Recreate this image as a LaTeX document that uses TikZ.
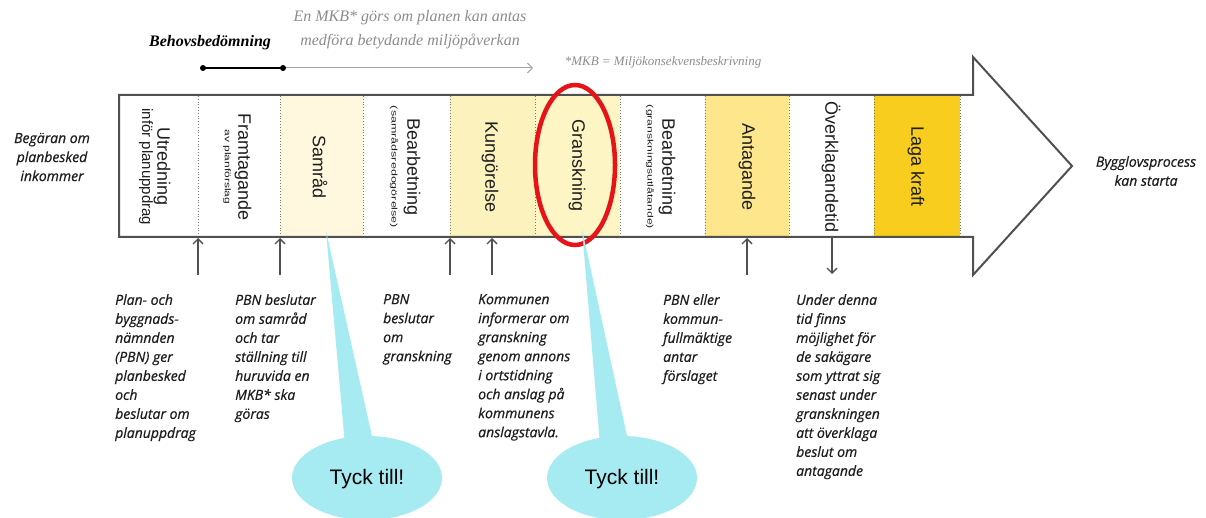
\documentclass[tikz,border=0pt]{standalone}
\usepackage{fontspec}
\setmainfont{Liberation Serif}
\setsansfont{Liberation Sans}
\newfontfamily\notef{Open Sans}[ItalicFeatures={FakeBold=0.7}]
\usetikzlibrary{arrows.meta}
\definecolor{bandline}{RGB}{80,80,80}
\definecolor{divline}{RGB}{120,120,120}
\definecolor{fillA}{RGB}{255,248,222}
\definecolor{fillB}{RGB}{252,242,190}
\definecolor{fillC}{RGB}{253,245,195}
\definecolor{fillD}{RGB}{253,230,140}
\definecolor{fillE}{RGB}{248,205,30}
\definecolor{calloutc}{RGB}{166,235,241}
\definecolor{ringred}{RGB}{230,20,25}
\definecolor{notegray}{RGB}{140,140,140}
\definecolor{txt}{RGB}{30,30,30}
\tikzset{
  collabel/.style={rotate=-90, inner sep=0pt, font=\sffamily\fontsize{18}{20}\selectfont, text=txt},
  colsmall/.style={rotate=-90, inner sep=0pt, font=\sffamily\fontsize{15}{16}\selectfont, text=txt},
  colsmaller/.style={rotate=-90, inner sep=0pt, text=txt},
  note/.style={anchor=north west, inner sep=0pt, align=left, text=txt, font=\notef\itshape\fontsize{14}{19}\selectfont},
  sidenote/.style={inner sep=0pt, align=center, text=txt, font=\notef\itshape\fontsize{14}{19}\selectfont},
  uparrow/.style={draw=bandline, line width=1.3pt, -{Straight Barb[length=5pt,width=10pt]}},
  divider/.style={draw=divline, line width=0.8pt, dotted},
  callout/.style={fill=calloutc, draw=none},
  tyck/.style={inner sep=0pt, font=\sffamily\fontsize{21}{24}\selectfont, text=black},
}
\begin{document}
\begin{tikzpicture}[x=1pt,y=-1pt]
\useasboundingbox (0,0) rectangle (1206,518);
% column fills
\fill[fillA] (280,95) rectangle (363,237);
\fill[fillB] (450,95) rectangle (535,237);
\fill[fillC] (535,95) rectangle (620,237);
\fill[fillD] (705,95) rectangle (789,237);
\fill[fillE] (874,95) rectangle (960,237);
% dividers
\foreach \xx in {198,280,363,450,535,620,705,789,874,960}{
  \draw[divider] (\xx,96) -- (\xx,236);
}
% band outline
\draw[bandline, line width=2pt, line join=miter] (119,95) -- (973,95) -- (973,57) -- (1072,166) -- (973,275) -- (973,237) -- (119,237) -- cycle;
% column labels
\node[collabel] (utr) at (162,167) {Utredning};
\node[colsmall] (utrs) at (146,167) {inför planuppdrag};
\node[collabel] (fram) at (243,167) {Framtagande};
\node[colsmaller] (frams) at (227,167) {\scalebox{1}[0.7]{\sffamily\fontsize{12}{12}\selectfont av planförslag}};
\node[collabel] (samr) at (320,167) {Samråd};
\node[collabel] (bear1) at (412,167) {Bearbetning};
\node[colsmaller] (bear1s) at (394,167) {\scalebox{1}[0.65]{\sffamily\fontsize{12.5}{12}\selectfont (samrådsredogörelse)}};
\node[collabel] (kung) at (490,167) {Kungörelse};
\node[collabel] (gran) at (577,166) {Granskning};
\node[collabel] (bear2) at (667,167) {Bearbetning};
\node[colsmaller] (bear2s) at (650,167) {\scalebox{1}[0.65]{\sffamily\fontsize{12.2}{12}\selectfont (granskningsutlåtande)}};
\node[collabel] (anta) at (747,167) {Antagande};
\node[collabel] (overk) at (831,167) {Överklagandetid};
\node[collabel] (laga) at (916,167) {Laga kraft};
% red ring
\draw[ringred, line width=4.5pt] (575,165) ellipse [x radius=40, y radius=80];
% top annotation
\node[inner sep=0pt, font=\rmfamily\itshape\fontsize{16}{24}\selectfont, text=notegray, align=center] (mkb) at (410,30) {En MKB* görs om planen kan antas\\medföra betydande miljöpåverkan};
\node[inner sep=0pt, font=\rmfamily\bfseries\itshape\fontsize{16}{18}\selectfont, text=black] (behov) at (210,43) {Behovsbedömning};
\node[inner sep=0pt, font=\rmfamily\itshape\fontsize{13}{15}\selectfont, text=notegray] (mkbdef) at (663,62) {*MKB = Miljökonsekvensbeskrivning};
\coordinate (d1) at (203,68);
\coordinate (d2) at (283,68);
\coordinate (d3) at (533,68);
\draw[black, line width=1.8pt] (d1) -- (d2);
\draw[notegray!80, line width=1pt, -{Straight Barb[length=5pt,width=10pt]}] (d2) -- (d3);
\fill[black] (d1) circle[radius=3pt];
\fill[black] (d2) circle[radius=3pt];
% arrows
\coordinate (a1s) at (198,275); \coordinate (a1e) at (198,238);
\coordinate (a2s) at (280,275); \coordinate (a2e) at (280,238);
\coordinate (a3s) at (450,275); \coordinate (a3e) at (450,238);
\coordinate (a4s) at (492,275); \coordinate (a4e) at (492,238);
\coordinate (a5s) at (747,275); \coordinate (a5e) at (747,238);
\coordinate (a6s) at (832,238); \coordinate (a6e) at (832,274);
\draw[uparrow] (a1s) -- (a1e);
\draw[uparrow] (a2s) -- (a2e);
\draw[uparrow] (a3s) -- (a3e);
\draw[uparrow] (a4s) -- (a4e);
\draw[uparrow] (a5s) -- (a5e);
\draw[uparrow] (a6s) -- (a6e);
% side texts
\node[sidenote] (beg) at (52,157) {Begäran om\\planbesked\\inkommer};
\node[sidenote] (bygg) at (1146,171) {Bygglovsprocess\\kan starta};
% bottom notes
\node[note] (n1) at (115,294) {Plan- och\\byggnads-\\nämnden\\(PBN) ger\\planbesked\\och\\beslutar om\\planuppdrag};
\node[note] (n2) at (235,294) {PBN beslutar\\om samråd\\och tar\\ställning till\\huruvida en\\MKB* ska\\göras};
\node[note] (n3) at (383,294) {PBN\\beslutar\\om\\granskning};
\node[note] (n4) at (478,294) {Kommunen\\informerar om\\granskning\\genom annons\\i ortstidning\\och anslag på\\kommunens\\anslagstavla.};
\node[note] (n5) at (663,294) {PBN eller\\kommun-\\fullmäktige\\antar\\förslaget};
\node[note] (n6) at (796,294) {Under denna\\tid finns\\möjlighet för\\de sakägare\\som yttrat sig\\senast under\\granskningen\\att överklaga\\beslut om\\antagande};
% callouts
\coordinate (t1) at (326,231);
\coordinate (t2) at (582,229);
\fill[callout] (345,445) -- (t1) -- (374,445) -- cycle;
\fill[callout] (367,478) ellipse [x radius=75, y radius=42];
\node[tyck] (tyck1) at (367,479) {Tyck till!};
\fill[callout] (600,445) -- (t2) -- (629,445) -- cycle;
\fill[callout] (622,478) ellipse [x radius=75, y radius=42];
\node[tyck] (tyck2) at (622,479) {Tyck till!};
\end{tikzpicture}
\end{document}
